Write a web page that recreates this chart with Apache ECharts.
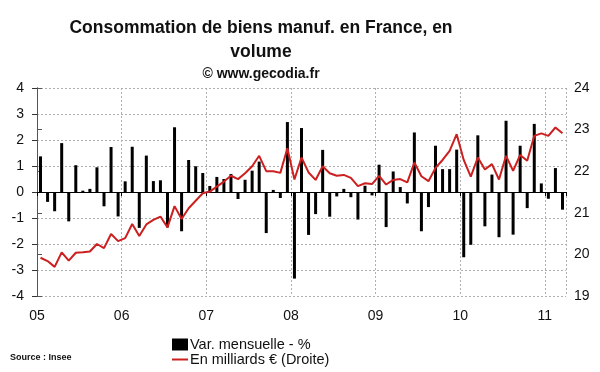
<!DOCTYPE html>
<html><head><meta charset="utf-8">
<script src="https://cdn.jsdelivr.net/npm/echarts@6/dist/echarts.min.js"></script>
<style>html,body{margin:0;padding:0;background:#fff}#c{width:600px;height:372px}</style>
</head><body><div id="c"></div>
<script>
// Monthly data, Jan 2005 .. Mar 2011
const yearLabels = ['05','06','07','08','09','10','11'];
const varMensuelle = [
 1.37,-0.38,-0.74,1.88,-1.13,1.03,0.05,0.12,0.95,-0.55,1.73,-0.94,
 0.41,1.74,-1.38,1.40,0.42,0.45,-1.36,2.49,-1.51,1.23,0.99,0.73,
 0.23,0.58,0.50,0.69,-0.27,0.47,0.82,1.17,-1.58,0.08,-0.23,2.69,
 -3.33,2.46,-1.65,-0.85,1.62,-0.95,-0.17,0.12,-0.20,-1.06,0.24,-0.13,
 1.05,-1.35,0.79,0.19,-0.44,2.29,-1.51,-0.58,1.78,0.88,0.88,1.63,
 -2.51,-2.03,2.18,-1.32,0.67,-1.74,2.74,-1.64,1.78,-0.62,2.62,0.33,
 -0.26,0.92,-0.68
];
const milliards = [
 19.92,19.84,19.70,20.05,19.85,20.04,20.05,20.07,20.25,20.15,20.49,20.32,
 20.39,20.73,20.44,20.72,20.83,20.91,20.65,21.16,20.85,21.11,21.29,21.47,
 21.51,21.63,21.75,21.89,21.81,21.95,22.12,22.37,22.00,22.00,21.96,22.55,
 21.80,22.33,21.97,21.79,22.12,21.95,21.89,21.91,21.84,21.64,21.71,21.69,
 21.89,21.68,21.79,21.81,21.73,22.21,21.88,21.76,22.08,22.27,22.49,22.89,
 22.27,21.87,22.33,22.04,22.17,21.80,22.37,22.01,22.39,22.25,22.85,22.91,
 22.85,23.05,22.91
];
const leftTicks = {min:-4, max:4, interval:1};
const rightTicks = {min:19, max:24, interval:1};

const barData = varMensuelle.map((v,i)=>[i+0.5,v]);
const lineData = milliards.map((v,i)=>[i+0.5,v]);
const nMonths = varMensuelle.length;

const chart = echarts.init(document.getElementById('c'), null, {renderer:'canvas'});
const font = 'Liberation Sans, Arial, sans-serif';
const legendText = {fontFamily:font, fontSize:14.5, color:'#111', padding:[0,0,0,-3]};
chart.setOption({
  animation:false,
  backgroundColor:'#fff',
  title:[
    {text:'Consommation de biens manuf. en France, en\nvolume', left:256, textAlign:'center', top:11,
     textStyle:{fontFamily:font, fontSize:17.5, fontWeight:'bold', color:'#111', lineHeight:24}},
    {text:'© www.gecodia.fr', left:256, textAlign:'center', top:62,
     textStyle:{fontFamily:font, fontSize:14, fontWeight:'bold', color:'#111'}},
    {text:'Source : Insee', left:5, top:348,
     textStyle:{fontFamily:font, fontSize:9, fontWeight:'bold', color:'#111'}}
  ],
  legend:[
    {left:167, top:332, itemWidth:16, itemHeight:12, itemGap:4, textStyle:legendText,
     data:[{name:'Var. mensuelle - %', icon:'rect'}]},
    {left:167, top:347, itemWidth:16, itemHeight:12, itemGap:4, textStyle:legendText,
     data:[{name:'En milliards € (Droite)', icon:'path://M0,5 L16,5 L16,7 L0,7 Z'}]}
  ],
  grid:{left:37, right:34, top:88, bottom:76},
  xAxis:[
    {type:'value', min:0, max:nMonths, interval:12,
     axisLine:{show:false}, axisTick:{show:false},
     axisLabel:{fontFamily:font, fontSize:14, color:'#111', margin:13,
       formatter:(v)=>{const k=Math.round(v/12); return (v%12===0 && k<yearLabels.length)?yearLabels[k]:'';}},
     splitLine:{show:true, lineStyle:{color:'#b0b0b0', type:[2,2], width:1}}},
    {type:'value', min:0, max:nMonths, interval:12, position:'bottom',
     axisLine:{show:true, onZero:true, onZeroAxisIndex:0, lineStyle:{color:'#000', width:1}},
     axisTick:{show:true, length:4, lineStyle:{color:'#000'}},
     axisLabel:{show:false}, splitLine:{show:false}}
  ],
  yAxis:[
    {type:'value', min:leftTicks.min, max:leftTicks.max, interval:leftTicks.interval,
     axisLine:{show:true, lineStyle:{color:'#333', width:1}},
     axisTick:{show:true, length:5, lineStyle:{color:'#333'}},
     axisLabel:{fontFamily:font, fontSize:14, color:'#111', margin:13},
     splitLine:{show:true, lineStyle:{color:'#b0b0b0', type:[2,2], width:1}}},
    {type:'value', min:rightTicks.min, max:rightTicks.max, interval:rightTicks.interval, position:'right',
     axisLine:{show:true, lineStyle:{color:'#555', width:1}},
     axisTick:{show:true, length:5, lineStyle:{color:'#555'}},
     axisLabel:{fontFamily:font, fontSize:14, color:'#111', margin:8},
     splitLine:{show:false}}
  ],
  series:[
    {name:'Var. mensuelle - %', type:'bar', xAxisIndex:0, yAxisIndex:0, data:barData,
     barWidth:3, itemStyle:{color:'#000'}},
    {name:'En milliards € (Droite)', type:'line', xAxisIndex:0, yAxisIndex:1, data:lineData,
     symbol:'none', lineStyle:{color:'#cc1f1f', width:2}, itemStyle:{color:'#cc1f1f'}}
  ]
});
</script></body></html>
